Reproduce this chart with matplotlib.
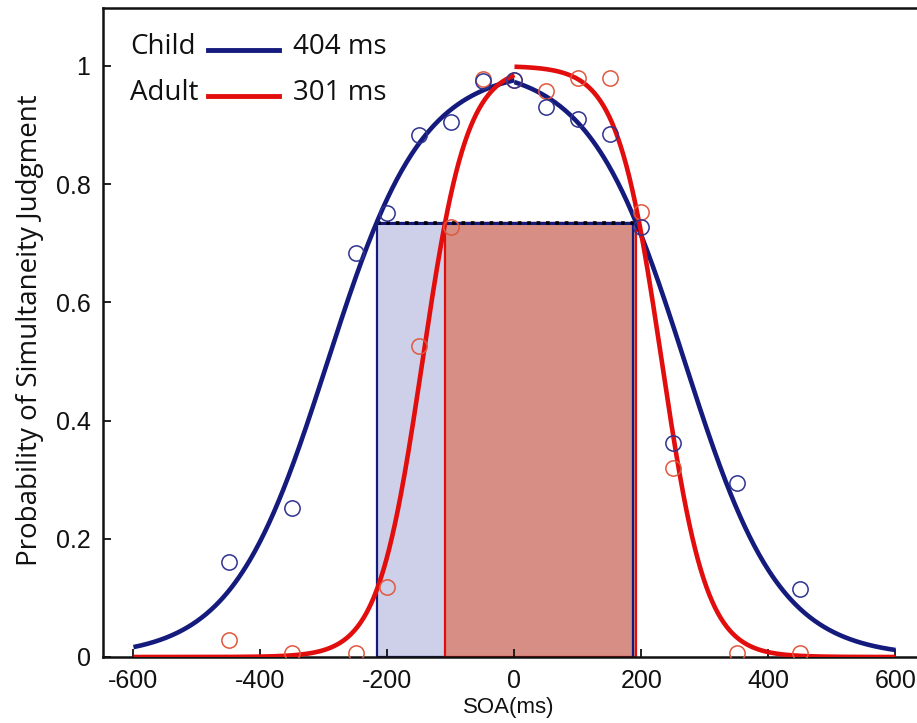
import numpy as np
import matplotlib
matplotlib.use("Agg")
import matplotlib.pyplot as plt
from matplotlib.lines import Line2D

# Observed simultaneity judgments (SOA in ms, proportion "simultaneous")
soa = [-450, -350, -250, -200, -150, -100, -50, 0, 50, 100, 150, 200, 250, 350, 450]
child_p = [0.160, 0.252, 0.684, 0.751, 0.883, 0.905, 0.975, 0.976, 0.930, 0.910, 0.885, 0.728, 0.362, 0.294, 0.115]
adult_p = [0.029, 0.006, 0.006, 0.118, 0.526, 0.728, 0.978, 0.976, 0.958, 0.980, 0.980, 0.753, 0.320, 0.006, 0.006]

# Sigmoid fits for each side of the window: (amplitude, midpoint, slope)
child_left_fit = (0.995, -295.0, 75.0)
child_right_fit = (1.000, 268.0, 75.0)
adult_left_fit = (1.000, -145.0, 35.0)
adult_right_fit = (1.000, 232.0, 35.0)

# Temporal binding windows (left edge, right edge) and criterion level
child_window = (-217, 187)
adult_window = (-109, 192)
criterion = 0.734

group_names = ["Child", "Adult"]
window_labels = ["404 ms", "301 ms"]

x_ticks = [-600, -400, -200, 0, 200, 400, 600]
x_tick_labels = ["-600", "-400", "-200", "0", "200", "400", "600"]
y_ticks = [0, 0.2, 0.4, 0.6, 0.8, 1.0]
y_tick_labels = ["0", "0.2", "0.4", "0.6", "0.8", "1"]

NAVY = "#141b7c"
RED = "#e20d0d"
BLUE_PT = "#2e3290"
RED_PT = "#e0583e"
BLUE_FILL = "#cdd0e8"
RED_FILL = "#d78e84"


def rising(x, amp, mid, slope):
    return amp / (1.0 + np.exp(-(x - mid) / slope))


def falling(x, amp, mid, slope):
    return amp / (1.0 + np.exp((x - mid) / slope))


W, H = 917, 723
fig = plt.figure(figsize=(W / 100, H / 100), dpi=100)
ax = fig.add_axes([103 / W, 66 / H, 856 / W, 649 / H])
ax.set_xlim(-648, 700)
ax.set_ylim(0, 1.098)

# Window rectangles
cl, cr = child_window
al, ar = adult_window
ax.bar(cl, criterion, width=cr - cl, align="edge", color=BLUE_FILL,
       edgecolor=NAVY, linewidth=1.6, zorder=1)
ax.bar(al, criterion, width=ar - al, align="edge", color=RED_FILL,
       edgecolor=RED, linewidth=1.6, zorder=1.2)
ax.plot([cr, cr], [0, criterion], color=NAVY, lw=1.6, zorder=1.3)
ax.plot([cl, ar], [criterion, criterion], color=NAVY, lw=2.2, zorder=1.4)
ax.plot([cl, ar], [criterion, criterion], color="black", lw=2.6,
        linestyle=(0, (1.0, 1.6)), zorder=1.5)

# Fitted curves (left and right halves)
xl = np.linspace(-600, 0, 400)
xr = np.linspace(0, 600, 400)
ax.plot(xl, rising(xl, *adult_left_fit), color=RED, lw=3.3, zorder=3,
        solid_capstyle="butt")
ax.plot(xr, falling(xr, *adult_right_fit), color=RED, lw=3.3, zorder=3,
        solid_capstyle="butt")
ax.plot(xl, rising(xl, *child_left_fit), color=NAVY, lw=3.3, zorder=2.9,
        solid_capstyle="butt")
ax.plot(xr, falling(xr, *child_right_fit), color=NAVY, lw=3.3, zorder=2.9,
        solid_capstyle="butt")

# Data points
ax.plot(soa, adult_p, linestyle="none", marker="o", markersize=11,
        markerfacecolor="none", markeredgecolor=RED_PT, markeredgewidth=1.1, zorder=4)
ax.plot(soa, child_p, linestyle="none", marker="o", markersize=11,
        markerfacecolor="none", markeredgecolor=BLUE_PT, markeredgewidth=1.1, zorder=4.1)

# Axes styling
for side in ["left", "bottom", "top", "right"]:
    ax.spines[side].set_linewidth(1.8)
    ax.spines[side].set_color("#111111")
ax.set_xticks(x_ticks)
ax.set_xticklabels(x_tick_labels)
ax.set_yticks(y_ticks)
ax.set_yticklabels(y_tick_labels)
ax.tick_params(direction="in", length=6, width=1.3, labelsize=18, pad=9,
               colors="#111111")
for lab in ax.get_xticklabels() + ax.get_yticklabels():
    lab.set_family("Liberation Sans")

fig.text(509 / W, 1 - 708 / H, "SOA(ms)", ha="center", va="center",
         fontsize=16, family="Liberation Sans", color="#111111")
fig.text(30 / W, 1 - 330 / H, "Probability of Simultaneity Judgment",
         rotation=90, ha="center", va="center", fontsize=20,
         family="Open Sans", color="#111111")

# Legend with window widths
leg_colors = [NAVY, RED]
leg_y = [47, 93]
for name, lbl, col, yy in zip(group_names, window_labels, leg_colors, leg_y):
    fig.text(130 / W, 1 - yy / H, name, ha="left", va="center",
             fontsize=20, family="Open Sans", color="#111111")
    fig.add_artist(Line2D([208 / W, 279 / W], [1 - (yy + 3) / H, 1 - (yy + 3) / H],
                          color=col, lw=3.5, transform=fig.transFigure))
    fig.text(293 / W, 1 - yy / H, lbl, ha="left", va="center",
             fontsize=20, family="Open Sans", color="#111111")

fig.savefig("out.png", dpi=100)
